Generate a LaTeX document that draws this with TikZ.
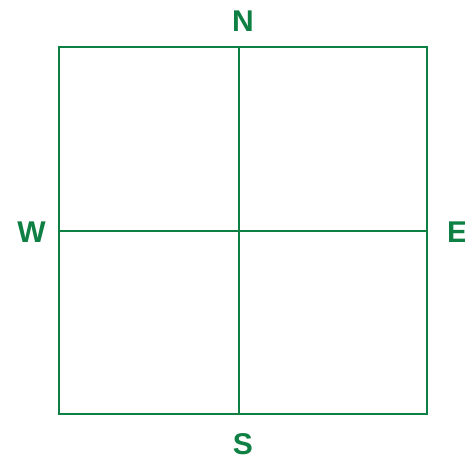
\documentclass[tikz,border=0pt]{standalone}
\usepackage{fontspec}
\setmainfont{Liberation Sans}
\definecolor{gridgreen}{RGB}{14,128,68}
\begin{document}
\begin{tikzpicture}[x=1pt, y=1pt,
  dirlabel/.style={font=\fontsize{30}{30}\selectfont\bfseries, text=gridgreen, inner sep=0pt},
  gridline/.style={draw=gridgreen, line width=2.2pt}]
  \useasboundingbox (0,0) rectangle (465,458);
  % the square and its two crossing lines
  \draw[gridline] (59,44) rectangle (427,411);
  \coordinate (top) at (239,411);
  \coordinate (bottom) at (239,44);
  \coordinate (left) at (59,227);
  \coordinate (right) at (427,227);
  \draw[gridline] (top) -- (bottom);
  \draw[gridline] (left) -- (right);
  % compass letters
  \node[dirlabel] (north) at (243,437) {N};
  \node[dirlabel] (south) at (243,14) {S};
  \node[dirlabel] (west) at (31.5,226) {W};
  \node[dirlabel] (east) at (457,226) {E};
\end{tikzpicture}
\end{document}
